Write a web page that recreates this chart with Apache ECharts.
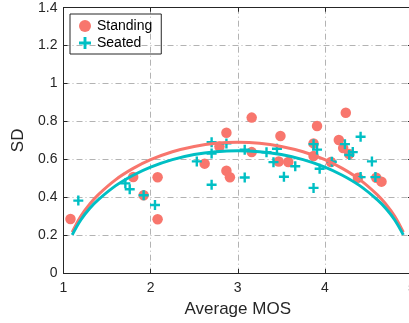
<!DOCTYPE html>
<html><head><meta charset="utf-8">
<script src="https://cdn.jsdelivr.net/npm/echarts@6/dist/echarts.min.js"></script>
<style>html,body{margin:0;padding:0;background:#fff}#c{width:409px;height:323px}</style>
</head><body><div id="c"></div>
<script>
// Standing (circles)
const standingX = [1.08,1.80,1.92,2.08,2.08,2.62,2.79,2.87,2.87,2.91,3.16,3.16,3.47,3.49,3.58,3.87,3.87,3.91,4.07,4.16,4.21,4.24,4.28,4.38,4.59,4.65];
const standingY = [0.285,0.507,0.41,0.505,0.284,0.577,0.667,0.74,0.54,0.505,0.82,0.638,0.588,0.723,0.586,0.684,0.617,0.776,0.586,0.702,0.66,0.846,0.628,0.503,0.503,0.482];
// Seated (plus)
const seatedX = [1.17,1.71,1.76,1.92,2.05,2.53,2.70,2.70,2.70,2.87,3.08,3.08,3.33,3.45,3.41,3.53,3.66,3.87,3.91,3.94,3.87,4.08,4.23,4.32,4.28,4.41,4.54,4.41,4.58];
const seatedY = [0.382,0.473,0.442,0.41,0.359,0.589,0.69,0.63,0.466,0.684,0.651,0.504,0.637,0.656,0.585,0.508,0.563,0.68,0.651,0.55,0.449,0.587,0.68,0.638,0.623,0.719,0.589,0.506,0.506];
// Fitted curves
const fitX = [1.1,1.2,1.3,1.4,1.6,1.8,2.0,2.25,2.5,2.75,3.0,3.25,3.5,3.75,4.0,4.2,4.4,4.6,4.7,4.8,4.9];
const standingFitY = [0.215,0.301,0.363,0.414,0.493,0.552,0.598,0.640,0.668,0.685,0.690,0.685,0.668,0.640,0.598,0.552,0.493,0.414,0.363,0.301,0.215];
const seatedFitY = [0.201,0.281,0.340,0.387,0.461,0.516,0.559,0.598,0.625,0.640,0.645,0.640,0.625,0.598,0.559,0.516,0.461,0.387,0.340,0.281,0.201];

const RED = '#F8766D', CYAN = '#00BFC4', INK = '#262626';
const zip = (a, b) => a.map((v, i) => [v, b[i]]);
const PLUS = 'path://M3.8,0H6.2V3.8H10V6.2H6.2V10H3.8V6.2H0V3.8H3.8Z';
const grid = {type: [6, 3, 1, 3], color: '#b3b3b3', width: 1};

const chart = echarts.init(document.getElementById('c'), null, {renderer: 'canvas'});
chart.setOption({
  animation: false,
  backgroundColor: '#fff',
  grid: {left: 63.5, width: 348.5, top: 7.7, height: 265.3, containLabel: false, outerBoundsMode: 'none'},
  legend: {
    left: 70, top: 14, orient: 'vertical',
    borderColor: INK, borderWidth: 1, padding: [5, 9, 4, 9], itemGap: 3,
    itemWidth: 14, itemHeight: 12,
    textStyle: {fontSize: 14, color: '#000', fontFamily: 'Liberation Sans'},
    data: [{name: 'Standing', icon: 'circle'}, {name: 'Seated', icon: PLUS}]
  },
  xAxis: [{
    type: 'value', min: 1, max: 5, interval: 1,
    name: 'Average MOS', nameLocation: 'middle', nameGap: 28,
    nameTextStyle: {fontSize: 17, color: INK, fontFamily: 'Liberation Sans'},
    axisLine: {lineStyle: {color: INK}},
    axisTick: {inside: true, length: 4, lineStyle: {color: INK}},
    axisLabel: {fontSize: 14, color: INK, fontFamily: 'Liberation Sans', margin: 8},
    splitLine: {show: true, lineStyle: grid}
  }, {
    type: 'value', position: 'top', min: 1, max: 5, interval: 1,
    axisLine: {show: true, onZero: false, lineStyle: {color: INK}},
    axisTick: {inside: true, length: 4, lineStyle: {color: INK}},
    axisLabel: {show: false}, splitLine: {show: false}
  }],
  yAxis: [{
    type: 'value', min: 0, max: 1.4, interval: 0.2,
    name: 'SD', nameLocation: 'middle', nameGap: 25,
    nameTextStyle: {fontSize: 17, color: INK, fontFamily: 'Liberation Sans'},
    axisLine: {show: true, lineStyle: {color: INK}},
    axisTick: {show: true, inside: true, length: 4, lineStyle: {color: INK}},
    axisLabel: {fontSize: 14, color: INK, fontFamily: 'Liberation Sans', margin: 6,
      formatter: v => (Math.round(v * 10) / 10).toString()},
    splitLine: {show: true, lineStyle: grid}
  }, {
    type: 'value', position: 'right', min: 0, max: 1.4, interval: 0.2,
    axisLine: {show: true, onZero: false, lineStyle: {color: INK}},
    axisTick: {show: true, inside: true, length: 4, lineStyle: {color: INK}},
    axisLabel: {show: false}, splitLine: {show: false}
  }],
  series: [
    {name: 'Standing', type: 'scatter', symbol: 'circle', symbolSize: 10.5,
     itemStyle: {color: RED, opacity: 1}, data: zip(standingX, standingY), z: 2},
    {name: 'Seated', type: 'scatter', symbol: PLUS, symbolSize: 10,
     itemStyle: {color: CYAN, opacity: 1}, data: zip(seatedX, seatedY), z: 3},
    {name: 'StandingFit', type: 'line', smooth: 0.4, symbol: 'none',
     lineStyle: {color: RED, width: 3}, data: zip(fitX, standingFitY), z: 4},
    {name: 'SeatedFit', type: 'line', smooth: 0.4, symbol: 'none',
     lineStyle: {color: CYAN, width: 3}, data: zip(fitX, seatedFitY), z: 5}
  ]
});
</script></body></html>
